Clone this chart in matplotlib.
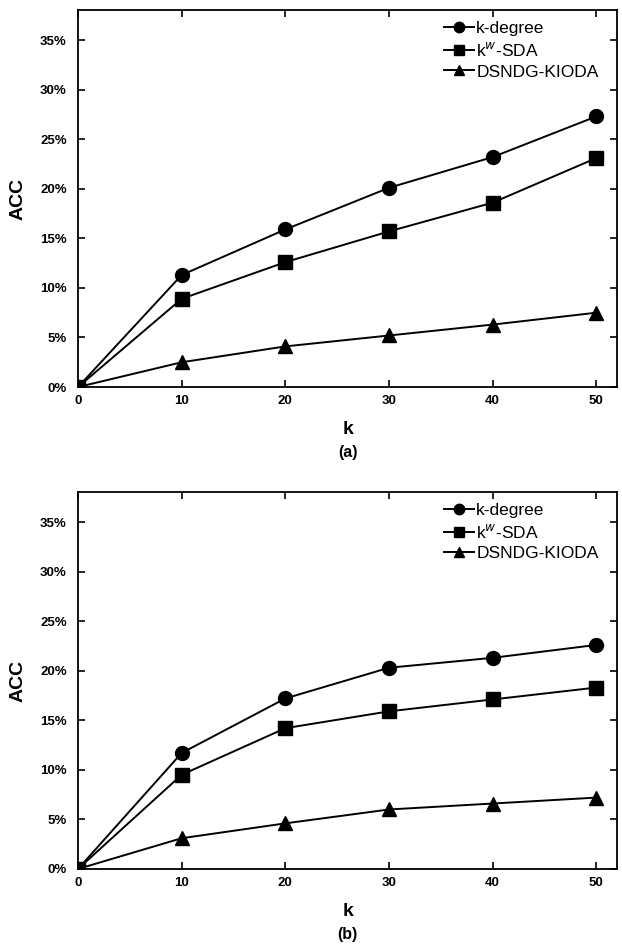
import matplotlib.pyplot as plt
from matplotlib.ticker import FuncFormatter

plt.rcParams['font.family'] = ['Liberation Sans', 'DejaVu Sans']

k = [0, 10, 20, 30, 40, 50]
labels = ['k-degree', r'k$^{w}$-SDA', 'DSNDG-KIODA']
markers = ['o', 's', '^']

# panel (a)
a_kdegree = [0.0, 11.3, 15.9, 20.1, 23.2, 27.3]
a_kwsda = [0.0, 8.9, 12.6, 15.7, 18.6, 23.1]
a_dsndg = [0.0, 2.5, 4.1, 5.2, 6.3, 7.5]

# panel (b)
b_kdegree = [0.0, 11.7, 17.2, 20.3, 21.3, 22.6]
b_kwsda = [0.0, 9.5, 14.2, 15.9, 17.1, 18.3]
b_dsndg = [0.0, 3.1, 4.6, 6.0, 6.6, 7.2]

fig = plt.figure(figsize=(6.22, 9.44), dpi=100)
ax_a = fig.add_axes([0.1254, 0.590, 0.8666, 0.399])
ax_b = fig.add_axes([0.1254, 0.0795, 0.8666, 0.399])

def draw(ax, series, tag):
    for vals, lab, m in zip(series, labels, markers):
        ax.plot(k, vals, color='black', lw=1.4, marker=m, markersize=10,
                markerfacecolor='black', markeredgecolor='black', label=lab)
    ax.set_xlim(0, 52)
    ax.set_ylim(0, 38)
    ax.set_xticks(k)
    ax.set_yticks(range(0, 40, 5))
    ax.yaxis.set_major_formatter(FuncFormatter(lambda v, p: f'{v:.0f}%'))
    ax.tick_params(direction='in', top=True, right=True, length=5, width=1.2,
                   labelsize=9.5)
    ax.tick_params(axis='y', pad=8)
    ax.tick_params(axis='x', pad=6)
    for t in ax.get_xticklabels() + ax.get_yticklabels():
        t.set_fontweight('bold')
    for s in ax.spines.values():
        s.set_linewidth(1.3)
    ax.set_ylabel('ACC', fontsize=14, fontweight='bold', labelpad=10)
    ax.set_xlabel('k', fontsize=14, fontweight='bold', labelpad=10)
    ax.text(0.5, -0.175, tag, transform=ax.transAxes, ha='center', va='center',
            fontsize=11.5, fontweight='bold')
    ax.legend(loc='upper right', frameon=False, fontsize=12.5, handlelength=1.7,
              handletextpad=0.15, labelspacing=0.3, borderaxespad=0.2,
              markerscale=0.75, bbox_to_anchor=(0.985, 1.0))

draw(ax_a, [a_kdegree, a_kwsda, a_dsndg], '(a)')
draw(ax_b, [b_kdegree, b_kwsda, b_dsndg], '(b)')

fig.savefig('out.png', dpi=100)
